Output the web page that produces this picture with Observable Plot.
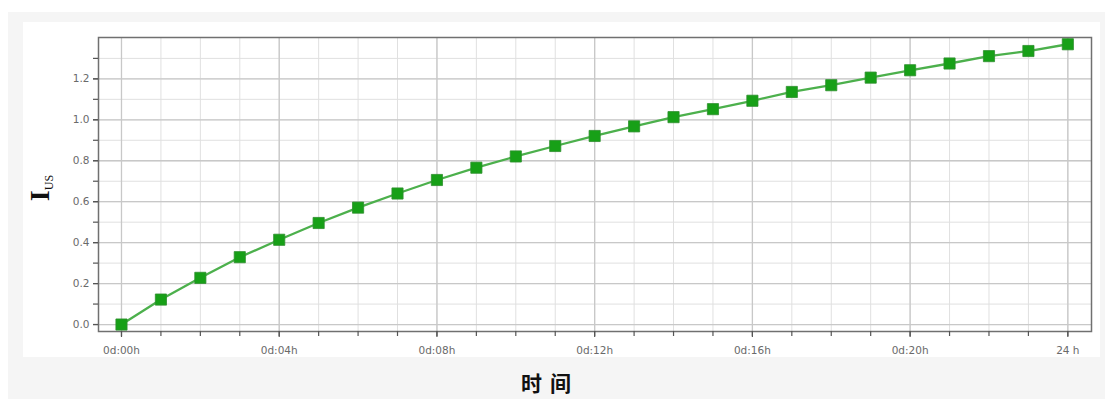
<!DOCTYPE html>
<html>
<head>
<meta charset="utf-8">
<script src="https://cdn.jsdelivr.net/npm/d3@7"></script>
<script src="https://cdn.jsdelivr.net/npm/@observablehq/plot@0.6"></script>
<style>
  html, body { margin: 0; padding: 0; background: #ffffff; }
  #wrap { position: relative; width: 1105px; height: 399px; overflow: hidden; }
  #outer { position: absolute; left: 8px; top: 12px; right: 0; bottom: 0; background: #f5f5f5; }
  #inner { position: absolute; left: 23px; top: 22px; right: 5px; height: 335px; background: #ffffff; }
  #chart { position: absolute; left: 0; top: 0; }
  #xlabel {
    position: absolute; left: 550px; top: 382px; transform: translate(-50%, -50%);
    font-family: "Noto Sans CJK SC", sans-serif; font-weight: 700; font-size: 21px;
    letter-spacing: 8px; color: #111; white-space: nowrap;
  }
  #ylabel {
    position: absolute; left: 40px; top: 188px; transform: translate(-50%, -50%) rotate(-90deg);
    font-family: "Liberation Serif", "DejaVu Serif", serif; color: #111; white-space: nowrap;
  }
  #ylabel .main { font-size: 28px; font-weight: 700; }
  #ylabel .sub { font-size: 12px; position: relative; top: 4px; }
</style>
</head>
<body>
<div id="wrap">
  <div id="outer"></div>
  <div id="inner"></div>
  <div id="chart"></div>
  <div id="ylabel"><span class="main">I</span><span class="sub">US</span></div>
  <div id="xlabel">时间</div>
</div>
<script>
// Hourly readings over one day
const hours = [0, 1, 2, 3, 4, 5, 6, 7, 8, 9, 10, 11, 12, 13, 14, 15, 16, 17, 18, 19, 20, 21, 22, 23, 24];
const values = [0.000, 0.122, 0.228, 0.329, 0.414, 0.496, 0.571, 0.640, 0.706, 0.766, 0.821, 0.872, 0.921,
                0.968, 1.013, 1.052, 1.093, 1.136, 1.169, 1.206, 1.242, 1.275, 1.311, 1.336, 1.369];

// Axis ticks and their labels
const majorHours = [0, 4, 8, 12, 16, 20, 24];
const hourLabels = ["0d:00h", "0d:04h", "0d:08h", "0d:12h", "0d:16h", "0d:20h", "24 h"];
const valueTicks = [0.0, 0.2, 0.4, 0.6, 0.8, 1.0, 1.2];
const valueLabels = ["0.0", "0.2", "0.4", "0.6", "0.8", "1.0", "1.2"];
const minorValues = [0.0, 0.1, 0.2, 0.3, 0.4, 0.5, 0.6, 0.7, 0.8, 0.9, 1.0, 1.1, 1.2, 1.3];

const rows = hours.map((h, i) => ({h, v: values[i]}));
const hourLabelOf = new Map(majorHours.map((h, i) => [h, hourLabels[i]]));
const valueLabelOf = new Map(valueTicks.map((v, i) => [v, valueLabels[i]]));

const tickFont = "DejaVu Sans, sans-serif";

const chart = Plot.plot({
  width: 1105,
  height: 399,
  marginLeft: 98,
  marginRight: 14,
  marginTop: 37,
  marginBottom: 68,
  style: {background: "transparent", fontFamily: tickFont},
  x: {domain: [-0.583, 24.6], label: null},
  y: {domain: [-0.034, 1.402], label: null},
  marks: [
    // grid: light lines every hour / 0.1, slightly darker on labelled ticks
    Plot.ruleX(hours, {stroke: "#e0e0e0", strokeWidth: 1}),
    Plot.ruleY(minorValues, {stroke: "#e0e0e0", strokeWidth: 1}),
    Plot.ruleX(majorHours, {stroke: "#c8c8c8", strokeWidth: 1.3}),
    Plot.ruleY(valueTicks, {stroke: "#c8c8c8", strokeWidth: 1.3}),
    Plot.frame({stroke: "#707070", strokeWidth: 1.5}),
    // minor ticks
    Plot.axisX(hours, {tickSize: 5, tickFormat: () => "", stroke: "#555", strokeWidth: 1.2}),
    Plot.axisY(minorValues, {tickSize: 5, tickFormat: () => "", stroke: "#555", strokeWidth: 1.2}),
    // labelled ticks
    Plot.axisX(majorHours, {
      tickSize: 6, tickPadding: 9, stroke: "#555", strokeWidth: 1.2,
      fill: "#6a6a6a", fontSize: 10.5, tickFormat: d => hourLabelOf.get(d)
    }),
    Plot.axisY(valueTicks, {
      tickSize: 5, tickPadding: 4, stroke: "#555", strokeWidth: 1.2,
      fill: "#6a6a6a", fontSize: 10.5, tickFormat: d => valueLabelOf.get(d)
    }),
    // series
    Plot.line(rows, {x: "h", y: "v", stroke: "#4cb04c", strokeWidth: 2.3}),
    Plot.dot(rows, {x: "h", y: "v", symbol: "square", r: 6.3, fill: "#17a017", stroke: "#2f8f2f", strokeWidth: 0.8})
  ]
});

document.getElementById("chart").appendChild(chart);
</script>
</body>
</html>
